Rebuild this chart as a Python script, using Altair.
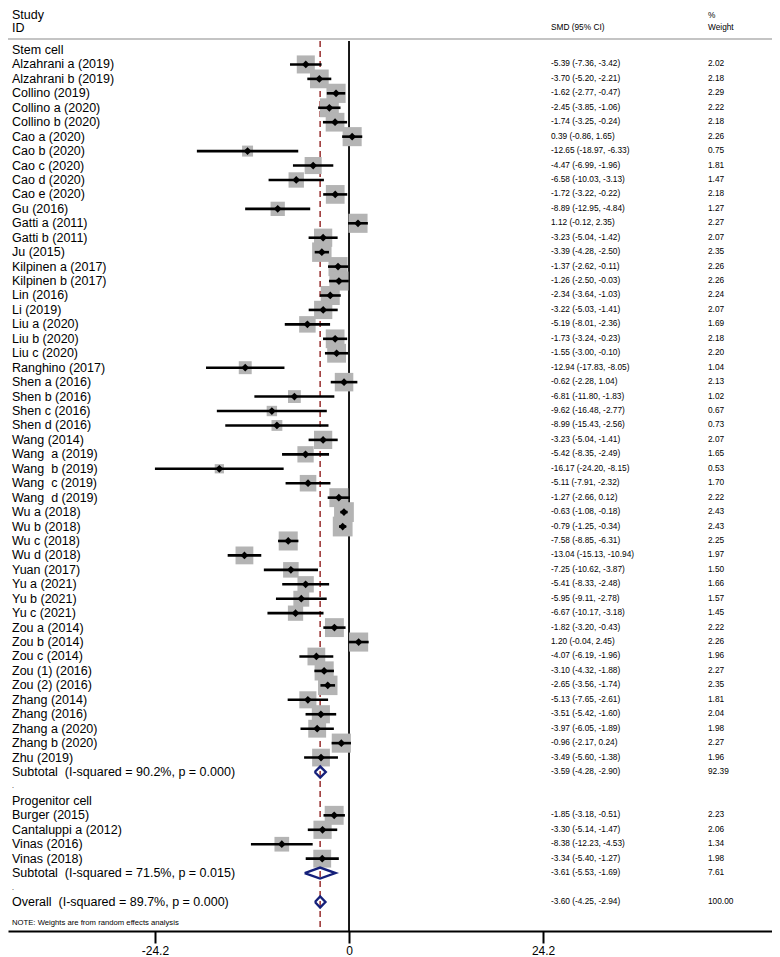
import altair as alt
import pandas as pd

# ---------------- data ----------------
stem_studies = [
    "Alzahrani a (2019)", "Alzahrani b (2019)", "Collino (2019)", "Collino a (2020)",
    "Collino b (2020)", "Cao a (2020)", "Cao b (2020)", "Cao c (2020)", "Cao d (2020)",
    "Cao e (2020)", "Gu (2016)", "Gatti a (2011)", "Gatti b (2011)", "Ju (2015)",
    "Kilpinen a (2017)", "Kilpinen b (2017)", "Lin (2016)", "Li (2019)", "Liu a (2020)",
    "Liu b (2020)", "Liu c (2020)", "Ranghino (2017)", "Shen a (2016)", "Shen b (2016)",
    "Shen c (2016)", "Shen d (2016)", "Wang (2014)", "Wang  a (2019)", "Wang  b (2019)",
    "Wang  c (2019)", "Wang  d (2019)", "Wu a (2018)", "Wu b (2018)", "Wu c (2018)",
    "Wu d (2018)", "Yuan (2017)", "Yu a (2021)", "Yu b (2021)", "Yu c (2021)",
    "Zou a (2014)", "Zou b (2014)", "Zou c (2014)", "Zou (1) (2016)", "Zou (2) (2016)",
    "Zhang (2014)", "Zhang (2016)", "Zhang a (2020)", "Zhang b (2020)", "Zhu (2019)",
]
stem_es = [-5.39, -3.70, -1.62, -2.45, -1.74, 0.39, -12.65, -4.47, -6.58, -1.72,
           -8.89, 1.12, -3.23, -3.39, -1.37, -1.26, -2.34, -3.22, -5.19, -1.73,
           -1.55, -12.94, -0.62, -6.81, -9.62, -8.99, -3.23, -5.42, -16.17, -5.11,
           -1.27, -0.63, -0.79, -7.58, -13.04, -7.25, -5.41, -5.95, -6.67, -1.82,
           1.20, -4.07, -3.10, -2.65, -5.13, -3.51, -3.97, -0.96, -3.49]
stem_lo = [-7.36, -5.20, -2.77, -3.85, -3.25, -0.86, -18.97, -6.99, -10.03, -3.22,
           -12.95, -0.12, -5.04, -4.28, -2.62, -2.50, -3.64, -5.03, -8.01, -3.24,
           -3.00, -17.83, -2.28, -11.80, -16.48, -15.43, -5.04, -8.35, -24.20, -7.91,
           -2.66, -1.08, -1.25, -8.85, -15.13, -10.62, -8.33, -9.11, -10.17, -3.20,
           -0.04, -6.19, -4.32, -3.56, -7.65, -5.42, -6.05, -2.17, -5.60]
stem_hi = [-3.42, -2.21, -0.47, -1.06, -0.24, 1.65, -6.33, -1.96, -3.13, -0.22,
           -4.84, 2.35, -1.42, -2.50, -0.11, -0.03, -1.03, -1.41, -2.36, -0.23,
           -0.10, -8.05, 1.04, -1.83, -2.77, -2.56, -1.41, -2.49, -8.15, -2.32,
           0.12, -0.18, -0.34, -6.31, -10.94, -3.87, -2.48, -2.78, -3.18, -0.43,
           2.45, -1.96, -1.88, -1.74, -2.61, -1.60, -1.89, 0.24, -1.38]
stem_w = [2.02, 2.18, 2.29, 2.22, 2.18, 2.26, 0.75, 1.81, 1.47, 2.18,
          1.27, 2.27, 2.07, 2.35, 2.26, 2.26, 2.24, 2.07, 1.69, 2.18,
          2.20, 1.04, 2.13, 1.02, 0.67, 0.73, 2.07, 1.65, 0.53, 1.70,
          2.22, 2.43, 2.43, 2.25, 1.97, 1.50, 1.66, 1.57, 1.45, 2.22,
          2.26, 1.96, 2.27, 2.35, 1.81, 2.04, 1.98, 2.27, 1.96]

prog_studies = ["Burger (2015)", "Cantaluppi a (2012)", "Vinas (2016)", "Vinas (2018)"]
prog_es = [-1.85, -3.30, -8.38, -3.34]
prog_lo = [-3.18, -5.14, -12.23, -5.40]
prog_hi = [-0.51, -1.47, -4.53, -1.27]
prog_w = [2.23, 2.06, 1.34, 1.98]

group_labels = ["Stem cell", "Progenitor cell"]
summary_labels = ["Subtotal  (I-squared = 90.2%, p = 0.000)",
                  "Subtotal  (I-squared = 71.5%, p = 0.015)",
                  "Overall  (I-squared = 89.7%, p = 0.000)"]
summary_es = [-3.59, -3.61, -3.60]
summary_lo = [-4.28, -5.53, -4.25]
summary_hi = [-2.90, -1.69, -2.94]
summary_w = [92.39, 7.61, 100.00]

axis_ticks = [-24.2, 0, 24.2]
note_text = "NOTE: Weights are from random effects analysis"

# ---------------- table building ----------------
def nb(s):
    return s.replace("  ", "\u00a0 ")

stem_rows = list(range(1, 1 + len(stem_studies)))
prog_rows = list(range(53, 53 + len(prog_studies)))
summary_rows = [50, 57, 59]
group_rows = [0, 52]
dot_rows = [51, 58]

studies = pd.DataFrame({
    "row": stem_rows + prog_rows,
    "label": [nb(s) for s in stem_studies + prog_studies],
    "es": stem_es + prog_es,
    "lo": stem_lo + prog_lo,
    "hi": stem_hi + prog_hi,
    "w": stem_w + prog_w,
})
studies["ci"] = [f"{e:.2f} ({l:.2f}, {h:.2f})" for e, l, h in zip(studies.es, studies.lo, studies.hi)]
studies["wt"] = [f"{v:.2f}" for v in studies.w]

summ = pd.DataFrame({
    "row": summary_rows,
    "label": [nb(s) for s in summary_labels],
    "es": summary_es, "lo": summary_lo, "hi": summary_hi, "w": summary_w,
})
summ["ci"] = [f"{e:.2f} ({l:.2f}, {h:.2f})" for e, l, h in zip(summ.es, summ.lo, summ.hi)]
summ["wt"] = [f"{v:.2f}" for v in summ.w]

left_text = pd.concat([
    studies[["row", "label"]],
    summ[["row", "label"]],
    pd.DataFrame({"row": group_rows, "label": group_labels}),
], ignore_index=True)

dots = pd.DataFrame({"row": dot_rows, "label": ["."] * len(dot_rows)})

right_text = pd.concat([studies[["row", "ci", "wt"]], summ[["row", "ci", "wt"]]], ignore_index=True)

half = 0.38
dia = []
for i, r in summ.iterrows():
    pts = [(r.lo, r.row), (r.es, r.row - half), (r.hi, r.row), (r.es, r.row + half), (r.lo, r.row)]
    for k, (px, py) in enumerate(pts):
        dia.append({"g": i, "k": k, "x": px, "y": py})
dia = pd.DataFrame(dia)

# ---------------- scales ----------------
FONT = "Liberation Sans"
W, H = 764, 923
xs = alt.Scale(domain=[-42.52, 52.74], nice=False, zero=False)
ys = alt.Scale(domain=[-2.909, 61.01], reverse=True, nice=False, zero=False)
X_AXIS = alt.Axis(values=axis_ticks, labelExpr="'' + datum.value", grid=False, title=None,
                  domainColor="black", domainWidth=2, tickColor="black", tickWidth=2,
                  tickSize=12, labelFontSize=12, labelFont=FONT, labelColor="black",
                  labelPadding=2, labelFlush=False, labelOverlap=False)

def X(field):
    return alt.X(f"{field}:Q", scale=xs, axis=X_AXIS)

def Y(field="row"):
    return alt.Y(f"{field}:Q", scale=ys, axis=None)

header_line = alt.Chart(pd.DataFrame({"row": [-0.76]})).mark_rule(
    color="#c4c4c4", strokeWidth=2).encode(y=Y(), x=alt.value(0), x2=alt.value(W))

zero_line = alt.Chart(pd.DataFrame({"x": [0]})).mark_rule(
    color="black", strokeWidth=1.8).encode(
    x=X("x"), y=alt.value(33), y2=alt.value(H))

overall_line = alt.Chart(summ.iloc[[2]]).mark_rule(
    color="#9e3a3a", strokeWidth=1.6, strokeDash=[6, 4]).encode(
    x=X("es"), y=alt.value(33), y2=alt.value(H))

boxes = alt.Chart(studies).mark_square(color="#b4b4b4", opacity=1, filled=True).encode(
    x=X("es"), y=Y(),
    size=alt.Size("w:Q", scale=alt.Scale(type="linear", domain=[0, 1], range=[0, 161]), legend=None))

ci = alt.Chart(studies).mark_rule(color="black", strokeWidth=2.6).encode(
    x=X("lo"), x2="hi:Q", y=Y())

pts = alt.Chart(studies).mark_point(shape="diamond", filled=True, color="black",
                                    opacity=1, size=60).encode(
    x=X("es"), y=Y())

diamonds = alt.Chart(dia).mark_line(color="#15207a", strokeWidth=2.4, strokeJoin="miter").encode(
    x=X("x"), y=Y("y"), detail="g:N", order="k:Q")

labels = alt.Chart(left_text).mark_text(
    align="left", baseline="middle", font=FONT, fontSize=12.5, color="black").encode(
    x=alt.value(4), y=Y(), text="label:N")

dot_text = alt.Chart(dots).mark_text(
    align="left", baseline="middle", font=FONT, fontSize=7, color="black").encode(
    x=alt.value(4), y=Y(), text="label:N")

ci_text = alt.Chart(right_text).mark_text(
    align="left", baseline="middle", font=FONT, fontSize=8.3, color="black").encode(
    x=alt.value(543), y=Y(), text="ci:N")

wt_text = alt.Chart(right_text).mark_text(
    align="left", baseline="middle", font=FONT, fontSize=8.3, color="black").encode(
    x=alt.value(700), y=Y(), text="wt:N")

head_top = alt.Chart(pd.DataFrame({"row": [-2.87], "t": ["Study"]})).mark_text(
    align="left", baseline="top", font=FONT, fontSize=12.5, color="black").encode(
    x=alt.value(4), y=Y(), text="t:N")

head_id = alt.Chart(pd.DataFrame({"row": [-1.52], "t": ["ID"]})).mark_text(
    align="left", baseline="middle", font=FONT, fontSize=12.5, color="black").encode(
    x=alt.value(4), y=Y(), text="t:N")

head_ci = alt.Chart(pd.DataFrame({"row": [-1.52], "t": ["SMD (95% CI)"]})).mark_text(
    align="left", baseline="middle", font=FONT, fontSize=8.3, color="black").encode(
    x=alt.value(543), y=Y(), text="t:N")

head_pct = alt.Chart(pd.DataFrame({"row": [-2.7], "t": ["%"]})).mark_text(
    align="left", baseline="top", font=FONT, fontSize=8.3, color="black").encode(
    x=alt.value(700), y=Y(), text="t:N")

head_w = alt.Chart(pd.DataFrame({"row": [-1.52], "t": ["Weight"]})).mark_text(
    align="left", baseline="middle", font=FONT, fontSize=8.3, color="black").encode(
    x=alt.value(700), y=Y(), text="t:N")

note = alt.Chart(pd.DataFrame({"row": [60.46], "t": [note_text]})).mark_text(
    align="left", baseline="middle", font=FONT, fontSize=7.7, color="black").encode(
    x=alt.value(4), y=Y(), text="t:N")

chart = alt.layer(
    header_line, zero_line, overall_line, boxes, ci, pts, diamonds,
    labels, dot_text, ci_text, wt_text, head_top, head_id, head_ci, head_pct, head_w, note,
).properties(
    width=W, height=H,
    autosize=alt.AutoSizeParams(type="none"),
    padding={"left": 0, "right": 0, "top": 0, "bottom": 26},
).configure_view(strokeWidth=0)

chart.save("out.html", embed_options={"renderer": "svg", "actions": False})
